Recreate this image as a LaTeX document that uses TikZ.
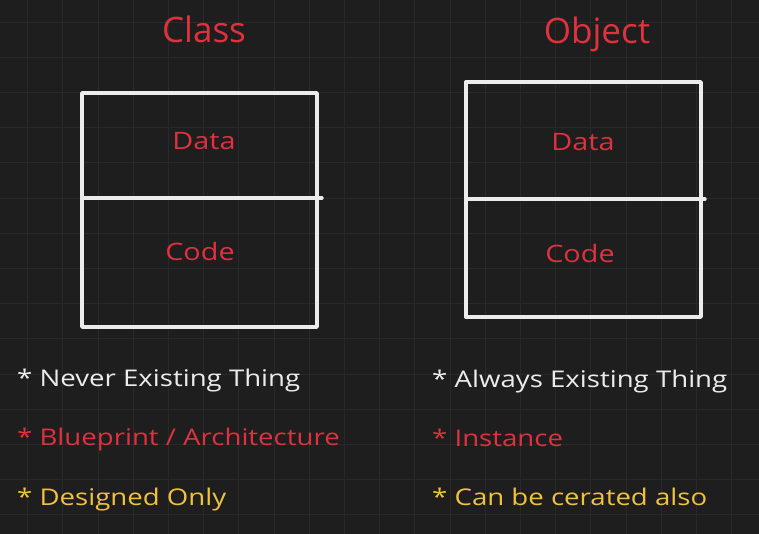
\documentclass[tikz,border=0pt]{standalone}
\usepackage{fontspec}
\setmainfont{Open Sans}
\newfontfamily\widefont{Open Sans}[FakeStretch=1.2]
\usetikzlibrary{positioning}

\definecolor{board}{HTML}{1E1E1E}
\definecolor{gridgray}{HTML}{292929}
\definecolor{chalk}{HTML}{ECECEC}
\definecolor{inkred}{HTML}{E0313F}
\definecolor{inkyellow}{HTML}{F2C23C}

\tikzset{
    gridline/.style={gridgray, line width=0.8pt},
    boxline/.style={chalk, line width=3.4pt, line cap=round, line join=round},
    heading/.style={anchor=base, inkred, font=\fontsize{35}{40}\selectfont},
    cell/.style={anchor=base, inkred, font=\widefont\fontsize{24}{28}\selectfont},
    bullet/.style={anchor=base west, inner sep=0pt, font=\widefont\fontsize{23}{26}\selectfont}
}

\begin{document}
\begin{tikzpicture}[x=1pt,y=-1pt]
    \fill [board] (0,0) rectangle (759,534);
    \useasboundingbox (0,0) rectangle (759,534);
    % background grid, 35.2 apart
    \foreach \i in {0,...,20} {
        \draw [gridline] ({27.5+35.2*\i},0) -- ({27.5+35.2*\i},534);
    }
    \foreach \j in {0,...,14} {
        \draw [gridline] (0,{22+35.2*\j}) -- (759,{22+35.2*\j});
    }
    % class
    \node[heading] (clsTitle) at (204,43) {Class};
    \draw [boxline] (82,93) rectangle (317,327);
    \draw [boxline] (82,198) -- (322,198);
    \node[cell] (clsData) at (204,150) {Data};
    \node[cell] (clsCode) at (200,261) {Code};
    % object
    \node[heading] (objTitle) at (597,44) {Object};
    \draw [boxline] (466,82) rectangle (701,317);
    \draw [boxline] (466,199) -- (705,199);
    \node[cell] (objData) at (583,151) {Data};
    \node[cell] (objCode) at (580,262) {Code};
    % notes
    \node[bullet, chalk] (clsNoteA) at (17,386) {* Never Existing Thing};
    \node[bullet, inkred] (clsNoteB) at (17,445) {* Blueprint / Architecture};
    \node[bullet, inkyellow] (clsNoteC) at (17,505) {* Designed Only};
    \node[bullet, chalk] (objNoteA) at (432,387) {* Always Existing Thing};
    \node[bullet, inkred] (objNoteB) at (432,446) {* Instance};
    \node[bullet, inkyellow] (objNoteC) at (432,505) {* Can be cerated also};
\end{tikzpicture}
\end{document}
